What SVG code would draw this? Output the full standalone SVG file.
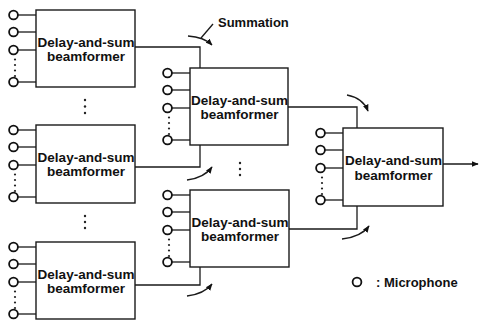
<svg xmlns="http://www.w3.org/2000/svg" width="479" height="322" viewBox="0 0 479 322">
<defs>
<style>
.box{fill:#fff;stroke:#1a1a1a;stroke-width:1.4}
.ln{fill:none;stroke:#1a1a1a;stroke-width:1.3}
.mic{fill:#fff;stroke:#111;stroke-width:1.8}
.dot{fill:#222}
.t{font-family:"Liberation Sans",Arial,sans-serif;font-weight:bold;font-size:13.5px;fill:#111;text-anchor:middle}
.lbl{font-family:"Liberation Sans",Arial,sans-serif;font-weight:bold;font-size:13px;fill:#111}
</style>
<marker id="ah" viewBox="0 0 10 10" refX="9" refY="5" markerWidth="7" markerHeight="7" orient="auto" markerUnits="userSpaceOnUse">
<path d="M0,1 L10,5 L0,9 z" fill="#111"/>
</marker>
<g id="mics">
<line class="ln" x1="-18" y1="5" x2="0" y2="5"/>
<line class="ln" x1="-18" y1="22" x2="0" y2="22"/>
<line class="ln" x1="-18" y1="40" x2="0" y2="40"/>
<line class="ln" x1="-18" y1="72" x2="0" y2="72"/>
<circle class="mic" cx="-22.5" cy="5" r="4.4"/>
<circle class="mic" cx="-22.5" cy="22" r="4.4"/>
<circle class="mic" cx="-22.5" cy="40" r="4.4"/>
<circle class="mic" cx="-22.5" cy="72" r="4.4"/>
<circle class="dot" cx="-21" cy="49.5" r="1.1"/>
<circle class="dot" cx="-21" cy="55" r="1.1"/>
<circle class="dot" cx="-21" cy="60.5" r="1.1"/>
<circle class="dot" cx="-21" cy="66" r="1.1"/>
</g>
</defs>

<g id="connectors">
<polyline class="ln" points="135,47 200,47 200,68"/>
<polyline class="ln" points="135,167 200,167 200,145"/>
<polyline class="ln" points="135,285 200,285 200,267"/>
<polyline class="ln" points="288,107 357,107 357,128"/>
<polyline class="ln" points="289,229 357,229 357,206"/>
<line class="ln" x1="443" y1="164" x2="478" y2="164" marker-end="url(#ah)"/>
<path class="ln" d="M188,36 Q204,37 212,45" marker-end="url(#ah)"/>
<line class="ln" x1="213" y1="24" x2="201" y2="38"/>
<path class="ln" d="M187,180 Q204,178 212,167" marker-end="url(#ah)"/>
<path class="ln" d="M187,296 Q204,294 212,284" marker-end="url(#ah)"/>
<path class="ln" d="M347,95 Q363,98 368,111" marker-end="url(#ah)"/>
<path class="ln" d="M342,239 Q361,237 369,226" marker-end="url(#ah)"/>
</g>

<g id="bf1">
<use href="#mics" x="36" y="10"/>
<rect class="box" x="36" y="10" width="99" height="77"/>
<text class="t" x="86" y="47">Delay-and-sum</text>
<text class="t" x="86" y="61">beamformer</text>
</g>
<g id="bf2">
<use href="#mics" x="36" y="125"/>
<rect class="box" x="36" y="125" width="99" height="78"/>
<text class="t" x="86" y="162">Delay-and-sum</text>
<text class="t" x="86" y="176">beamformer</text>
</g>
<g id="bf3">
<use href="#mics" x="36" y="242"/>
<rect class="box" x="36" y="242" width="99" height="77"/>
<text class="t" x="86" y="279">Delay-and-sum</text>
<text class="t" x="86" y="293">beamformer</text>
</g>
<g id="bf4">
<use href="#mics" x="190" y="68"/>
<rect class="box" x="190" y="68" width="98" height="77"/>
<text class="t" x="239.5" y="105">Delay-and-sum</text>
<text class="t" x="239.5" y="119">beamformer</text>
</g>
<g id="bf5">
<use href="#mics" x="190" y="190"/>
<rect class="box" x="190" y="190" width="99" height="77"/>
<text class="t" x="240" y="227">Delay-and-sum</text>
<text class="t" x="240" y="241">beamformer</text>
</g>
<g id="bf6">
<use href="#mics" x="343" y="128"/>
<rect class="box" x="343" y="128" width="100" height="78"/>
<text class="t" x="393.5" y="165">Delay-and-sum</text>
<text class="t" x="393.5" y="180">beamformer</text>
</g>

<g id="ellipses">
<circle class="dot" cx="85" cy="100" r="1.2"/>
<circle class="dot" cx="85" cy="106.5" r="1.2"/>
<circle class="dot" cx="85" cy="113" r="1.2"/>
<circle class="dot" cx="85" cy="216" r="1.2"/>
<circle class="dot" cx="85" cy="222" r="1.2"/>
<circle class="dot" cx="85" cy="228" r="1.2"/>
<circle class="dot" cx="240" cy="163" r="1.2"/>
<circle class="dot" cx="240" cy="169" r="1.2"/>
<circle class="dot" cx="240" cy="175" r="1.2"/>
</g>

<g id="summation-label">
<text class="lbl" x="218" y="27">Summation</text>
</g>
<g id="legend">
<circle class="mic" cx="357" cy="282" r="4.4"/>
<text class="lbl" x="376" y="287">: Microphone</text>
</g>
</svg>
